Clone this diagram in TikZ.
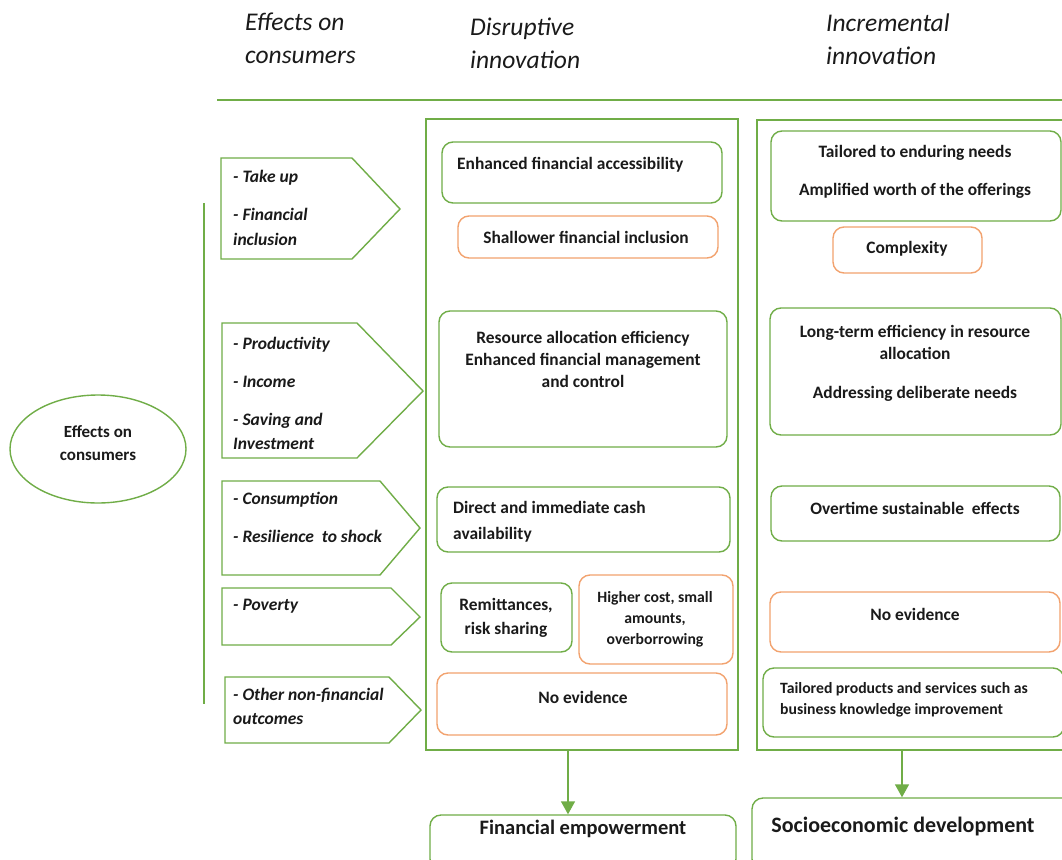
\documentclass[tikz,border=0pt]{standalone}
\usepackage{fontspec}
\setmainfont{Carlito}
\usetikzlibrary{shapes.geometric,arrows.meta}
\definecolor{grn}{HTML}{70AD47}
\definecolor{org}{HTML}{F2A26E}
\definecolor{ink}{HTML}{1A1A1A}
\begin{document}
\begin{tikzpicture}[x=1pt,y=-1pt,
  gbox/.style={draw=grn, line width=1.4pt, rounded corners=11pt, inner sep=0},
  obox/.style={draw=org, line width=1.4pt, rounded corners=11pt, inner sep=0},
  colframe/.style={draw=grn, line width=1.4pt, inner sep=0},
  pent/.style={draw=grn, line width=1.4pt, line join=miter},
  bt/.style={font=\fontsize{17.4}{22}\selectfont\bfseries, text=ink, inner sep=0, align=center},
  ptx/.style={font=\fontsize{17.5}{25}\selectfont\bfseries\itshape, text=ink, inner sep=0, align=left, anchor=west},
  hd/.style={font=\fontsize{25.5}{33}\selectfont\itshape, text=ink, inner sep=0, align=left, anchor=west},
  arr/.style={draw=grn, line width=1.4pt, -{Triangle[width=14pt,length=13pt]}}
]
\useasboundingbox (0,0) rectangle (1062,859);
\fill[white] (0,0) rectangle (1062,859);

% headers
\node[hd] (h1) at (245,38.5) {Effects on\\consumers};
\node[hd] (h2) at (470,43.5) {Disruptive\\innovation};
\node[hd] (h3) at (826,39.5) {Incremental\\innovation};
\coordinate (hl1) at (217,100);
\coordinate (hl2) at (1062,100);
\draw[grn, line width=1.4pt] (hl1) -- (hl2);

% left ellipse and vertical line
\node[ellipse, draw=grn, line width=1.4pt, minimum width=176pt, minimum height=108pt, inner sep=0] (ell) at (98,449) {};
\node[bt, font=\fontsize{17}{23}\selectfont\bfseries] (ellt) at (98,443) {Effects on\\consumers};
\coordinate (vl1) at (204,203);
\coordinate (vl2) at (204,704);
\draw[grn, line width=1.4pt] (vl1) -- (vl2);

% pentagons
\draw[pent] (221,158) -- (352,158) -- (400,209) -- (352,259) -- (221,259) -- cycle;
\draw[pent] (222,323) -- (357,323) -- (423,391) -- (357,458) -- (222,458) -- cycle;
\draw[pent] (222,481) -- (380,481) -- (420,528) -- (380,575) -- (222,575) -- cycle;
\draw[pent] (222,588) -- (391,588) -- (420,617) -- (391,645) -- (222,645) -- cycle;
\draw[pent] (225,677) -- (389,677) -- (421,710) -- (389,743) -- (225,743) -- cycle;
\node[ptx] (pt1) at (233,207.5) {- Take up\\[13pt]- Financial\\inclusion};
\node[ptx, font=\fontsize{17.5}{24}\selectfont\bfseries\itshape] (pt2) at (233,393) {- Productivity\\[14pt]- Income\\[14pt]- Saving and\\Investment};
\node[ptx] (pt3) at (233,517) {- Consumption\\[13pt]- Resilience\ \ to shock};
\node[ptx] (pt4) at (233,606) {- Poverty};
\node[ptx, font=\fontsize{17.5}{24}\selectfont\bfseries\itshape] (pt5) at (233,706) {- Other non-financial\\outcomes};

% column frames
\node[colframe, minimum width=312pt, minimum height=631pt] (dcol) at (582,434.5) {};
\node[colframe, minimum width=318pt, minimum height=630pt] (icol) at (916,435) {};

% disruptive boxes
\node[gbox, minimum width=280pt, minimum height=61pt] (e1) at (582,172.5) {};
\node[bt, anchor=west] (e1t) at (457,165) {Enhanced\ financial\ accessibility};
\node[obox, minimum width=260pt, minimum height=42pt] (e2) at (588,237) {};
\node[bt] (e2t) at (586,237) {Shallower financial inclusion};
\node[gbox, minimum width=288pt, minimum height=136pt] (e3) at (583,379) {};
\node[bt] (e3t) at (583,359) {Resource allocation efficiency\\Enhanced financial management\\and control};
\node[gbox, minimum width=293pt, minimum height=65pt] (e4) at (583.5,519.5) {};
\node[bt, anchor=west, align=left, font=\fontsize{17.4}{26}\selectfont\bfseries] (e4t) at (453,522) {Direct and immediate cash\\availability};
\node[gbox, minimum width=131pt, minimum height=69pt] (e5) at (506.5,617.5) {};
\node[bt, font=\fontsize{17.4}{24}\selectfont\bfseries] (e5t) at (506,618) {Remittances,\\risk sharing};
\node[obox, minimum width=154pt, minimum height=89pt] (e6) at (656,619.5) {};
\node[bt, font=\fontsize{15.7}{21}\selectfont\bfseries] (e6t) at (655,619) {Higher cost, small\\amounts,\\overborrowing};
\node[obox, minimum width=290pt, minimum height=62pt] (e7) at (582,704) {};
\node[bt] (e7t) at (583,697) {No evidence};

% incremental boxes
\node[gbox, minimum width=290pt, minimum height=90pt] (i1) at (916,176) {};
\node[bt, font=\fontsize{17.4}{38}\selectfont\bfseries] (i1t) at (915,172) {Tailored to enduring needs\\Amplified worth of the offerings};
\node[obox, minimum width=149pt, minimum height=46pt] (i2) at (907.5,250) {};
\node[bt] (i2t) at (907,249) {Complexity};
\node[gbox, minimum width=291pt, minimum height=127pt] (i3) at (915.5,371.5) {};
\node[bt] (i3t) at (915,363) {Long-term efficiency in resource\\allocation\\[17pt]Addressing deliberate needs};
\node[gbox, minimum width=289pt, minimum height=55pt] (i4) at (915.5,513.5) {};
\node[bt] (i4t) at (915,508) {Overtime sustainable\ \ effects};
\node[obox, minimum width=290pt, minimum height=60pt] (i5) at (915,622) {};
\node[bt] (i5t) at (915,614) {No evidence};
\node[gbox, minimum width=301pt, minimum height=69pt] (i6) at (913.5,702.5) {};
\node[bt, anchor=west, align=left, font=\fontsize{15.7}{21}\selectfont\bfseries] (i6t) at (780,700) {Tailored products and services such as\\business knowledge improvement};

% outcome boxes
\node[gbox, minimum width=306pt, minimum height=55pt] (fe) at (583,842.5) {};
\node[bt, font=\fontsize{20.5}{24}\selectfont\bfseries] (fet) at (583,829) {Financial empowerment};
\node[gbox, minimum width=323pt, minimum height=72pt] (se) at (913.5,834) {};
\node[bt, font=\fontsize{22}{26}\selectfont\bfseries] (set) at (903,826) {Socioeconomic development};

% arrows
\coordinate (a1) at (568,0);
\draw[arr] (dcol.south -| a1) -- (fe.north -| a1);
\coordinate (a2) at (902,0);
\draw[arr] (icol.south -| a2) -- (se.north -| a2);
\end{tikzpicture}
\end{document}
